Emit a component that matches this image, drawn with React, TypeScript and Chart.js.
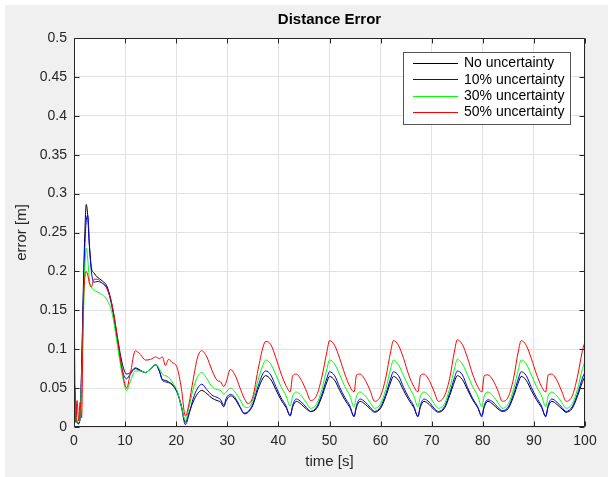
import React, { useEffect, useRef } from 'react';
import { Chart, registerables } from 'chart.js';

Chart.register(...registerables);

const FONT = '"Liberation Sans", Arial, Helvetica, sans-serif';

const chartTitle = 'Distance Error';
const xAxisLabel = 'time [s]';
const yAxisLabel = 'error [m]';

const xTicks = [0, 10, 20, 30, 40, 50, 60, 70, 80, 90, 100];
const yTicks = [0, 0.05, 0.1, 0.15, 0.2, 0.25, 0.3, 0.35, 0.4, 0.45, 0.5];

const time = [
  0, 0.3, 0.6, 0.9, 1.2, 1.5, 1.8, 2.1, 2.4, 2.7, 3.0, 3.4, 3.9, 4.5, 5.5, 6.5, 7.5, 8.5, 9.5, 10.3,
  11, 12, 13, 14, 15, 16, 16.7, 17.3, 17.9, 18.5, 19.2, 20.2, 21, 21.8, 22.5, 23.3, 24.2,
  25, 26, 27, 28, 28.7, 29.3, 29.8, 30.6, 31.5, 32.5, 33.3, 34.1, 35, 36, 37,
  37.5, 38.5, 39.5, 40.5, 41.5, 42.3, 42.8, 43.5, 44.5, 45.5, 46.3, 47.5, 48.5, 49.5,
  50, 51, 52, 53, 54, 54.8, 55.3, 56, 57, 58, 58.8, 60, 61, 62,
  62.5, 63.5, 64.5, 65.5, 66.5, 67.3, 67.8, 68.5, 69.5, 70.5, 71.3, 72.5, 73.5, 74.5,
  75, 76, 77, 78, 79, 79.8, 80.3, 81, 82, 83, 83.8, 85, 86, 87,
  87.5, 88.5, 89.5, 90.5, 91.5, 92.3, 92.8, 93.5, 94.5, 95.5, 96.3, 97.5, 98.5, 99.5,
  100,
];

const noUncertainty = [
  0.07, 0.03, 0.006, 0.005, 0.015, 0.08, 0.17, 0.245, 0.286, 0.27, 0.235, 0.205, 0.198, 0.193, 0.188, 0.18, 0.155, 0.115, 0.08, 0.068,
  0.07, 0.076, 0.073, 0.07, 0.075, 0.08, 0.072, 0.061, 0.06, 0.058, 0.055, 0.045, 0.028, 0.006, 0.018, 0.032, 0.043,
  0.047, 0.043, 0.037, 0.034, 0.032, 0.026, 0.034, 0.04, 0.036, 0.025, 0.017, 0.019, 0.028, 0.048, 0.063,
  0.066, 0.061, 0.048, 0.035, 0.025, 0.015, 0.026, 0.033, 0.029, 0.023, 0.02, 0.024, 0.039, 0.058,
  0.065, 0.06, 0.047, 0.035, 0.025, 0.014, 0.026, 0.033, 0.029, 0.023, 0.019, 0.024, 0.039, 0.058,
  0.065, 0.06, 0.047, 0.035, 0.025, 0.014, 0.026, 0.033, 0.029, 0.022, 0.019, 0.024, 0.04, 0.059,
  0.066, 0.061, 0.048, 0.035, 0.025, 0.015, 0.026, 0.033, 0.029, 0.023, 0.02, 0.024, 0.039, 0.058,
  0.065, 0.06, 0.047, 0.035, 0.025, 0.014, 0.026, 0.033, 0.029, 0.023, 0.019, 0.024, 0.039, 0.058,
  0.065,
];

const uncertainty10 = [
  0.065, 0.03, 0.006, 0.004, 0.012, 0.075, 0.16, 0.23, 0.265, 0.272, 0.235, 0.2, 0.186, 0.187, 0.185, 0.178, 0.152, 0.11, 0.072, 0.062,
  0.068, 0.075, 0.072, 0.07, 0.075, 0.08, 0.072, 0.06, 0.058, 0.057, 0.054, 0.044, 0.026, 0.003, 0.016, 0.036, 0.05,
  0.055, 0.048, 0.041, 0.038, 0.035, 0.028, 0.037, 0.042, 0.038, 0.026, 0.018, 0.02, 0.03, 0.052, 0.069,
  0.072, 0.067, 0.052, 0.038, 0.027, 0.014, 0.028, 0.036, 0.032, 0.025, 0.02, 0.026, 0.042, 0.063,
  0.071, 0.066, 0.051, 0.038, 0.027, 0.013, 0.028, 0.036, 0.032, 0.025, 0.02, 0.026, 0.042, 0.063,
  0.071, 0.066, 0.051, 0.038, 0.027, 0.013, 0.028, 0.036, 0.032, 0.024, 0.02, 0.026, 0.043, 0.064,
  0.072, 0.067, 0.051, 0.037, 0.026, 0.013, 0.028, 0.035, 0.032, 0.025, 0.021, 0.026, 0.042, 0.063,
  0.071, 0.066, 0.051, 0.038, 0.027, 0.013, 0.028, 0.036, 0.032, 0.025, 0.02, 0.026, 0.042, 0.063,
  0.071,
];

const uncertainty30 = [
  0.06, 0.025, 0.007, 0.006, 0.015, 0.06, 0.13, 0.2, 0.23, 0.215, 0.19, 0.18, 0.176, 0.174, 0.17, 0.163, 0.145, 0.105, 0.065, 0.047,
  0.058, 0.072, 0.072, 0.07, 0.075, 0.08, 0.075, 0.068, 0.066, 0.064, 0.058, 0.046, 0.027, 0.008, 0.025, 0.048, 0.065,
  0.07, 0.062, 0.052, 0.048, 0.047, 0.042, 0.045, 0.05, 0.045, 0.035, 0.026, 0.025, 0.035, 0.06, 0.08,
  0.086, 0.081, 0.067, 0.052, 0.04, 0.027, 0.04, 0.045, 0.04, 0.031, 0.024, 0.03, 0.048, 0.075,
  0.086, 0.081, 0.067, 0.052, 0.04, 0.026, 0.04, 0.045, 0.04, 0.031, 0.024, 0.03, 0.048, 0.076,
  0.086, 0.08, 0.066, 0.052, 0.04, 0.026, 0.04, 0.045, 0.04, 0.03, 0.024, 0.03, 0.049, 0.076,
  0.087, 0.081, 0.067, 0.052, 0.04, 0.026, 0.04, 0.045, 0.04, 0.031, 0.024, 0.03, 0.048, 0.075,
  0.086, 0.081, 0.067, 0.052, 0.04, 0.026, 0.04, 0.045, 0.04, 0.031, 0.024, 0.03, 0.048, 0.075,
  0.085,
];

const uncertainty50 = [
  0.2, 0.006, 0.034, 0.008, 0.032, 0.012, 0.145, 0.19, 0.2, 0.195, 0.185, 0.18, 0.19, 0.19, 0.185, 0.177, 0.155, 0.115, 0.07, 0.05,
  0.068, 0.098, 0.093, 0.086, 0.087, 0.09, 0.088, 0.09, 0.079, 0.087, 0.083, 0.076, 0.05, 0.014, 0.03, 0.06, 0.09,
  0.098, 0.09, 0.073, 0.06, 0.058, 0.052, 0.058, 0.074, 0.067, 0.05, 0.037, 0.03, 0.039, 0.073, 0.103,
  0.11, 0.106, 0.089, 0.069, 0.053, 0.045, 0.066, 0.068, 0.06, 0.046, 0.034, 0.041, 0.064, 0.097,
  0.111, 0.105, 0.088, 0.068, 0.052, 0.045, 0.067, 0.068, 0.06, 0.046, 0.033, 0.04, 0.063, 0.098,
  0.111, 0.105, 0.088, 0.067, 0.052, 0.045, 0.066, 0.068, 0.06, 0.045, 0.033, 0.04, 0.062, 0.099,
  0.112, 0.106, 0.089, 0.068, 0.052, 0.045, 0.066, 0.067, 0.06, 0.046, 0.033, 0.039, 0.062, 0.099,
  0.111, 0.105, 0.088, 0.068, 0.052, 0.045, 0.067, 0.068, 0.06, 0.045, 0.033, 0.04, 0.064, 0.098,
  0.11,
];

const seriesLabels = ['No uncertainty', '10% uncertainty', '30% uncertainty', '50% uncertainty'];
const seriesColors = ['#000000', '#0000ff', '#00ff00', '#ff0000'];
const seriesValues = [noUncertainty, uncertainty10, uncertainty30, uncertainty50];

const AXIS_COLOR = '#262626';
const GRID_COLOR = '#e2e2e2';

const decorPlugin = {
  id: 'matlabDecor',
  beforeDraw(chart: any) {
    const { ctx, width, height, chartArea } = chart;
    ctx.save();
    ctx.fillStyle = '#ffffff';
    ctx.fillRect(0, 0, width, height);
    ctx.fillStyle = '#f0f0f0';
    ctx.fillRect(5, 5, width - 5, height - 5);
    ctx.fillStyle = '#ffffff';
    ctx.fillRect(chartArea.left, chartArea.top, chartArea.right - chartArea.left, chartArea.bottom - chartArea.top);
    ctx.restore();
  },
  afterDatasetsDraw(chart: any) {
    const { ctx, chartArea } = chart;
    const { left, right, top, bottom } = chartArea;
    const xs = chart.scales.x;
    const ys = chart.scales.y;
    ctx.save();
    ctx.strokeStyle = AXIS_COLOR;
    ctx.lineWidth = 1;
    ctx.beginPath();
    const L = Math.round(left) + 0.5;
    const R = Math.round(right) - 0.5;
    const T = Math.round(top) + 0.5;
    const B = Math.round(bottom) - 0.5;
    ctx.rect(L, T, R - L, B - T);
    const tl = 5;
    xTicks.forEach((v) => {
      const px = Math.round(xs.getPixelForValue(v)) + 0.5;
      ctx.moveTo(px, B);
      ctx.lineTo(px, B - tl);
      ctx.moveTo(px, T);
      ctx.lineTo(px, T + tl);
    });
    yTicks.forEach((v) => {
      const py = Math.round(ys.getPixelForValue(v)) + 0.5;
      ctx.moveTo(L, py);
      ctx.lineTo(L + tl, py);
      ctx.moveTo(R, py);
      ctx.lineTo(R - tl, py);
    });
    ctx.stroke();
    ctx.restore();
  },
  afterDraw(chart: any) {
    const { ctx, chartArea } = chart;
    const cx = (chartArea.left + chartArea.right) / 2;
    ctx.save();
    ctx.fillStyle = '#000000';
    ctx.textAlign = 'center';
    ctx.textBaseline = 'middle';
    ctx.font = `bold 15px ${FONT}`;
    ctx.fillText(chartTitle, cx, 20);
    ctx.fillStyle = AXIS_COLOR;
    ctx.font = `15px ${FONT}`;
    ctx.fillText(xAxisLabel, cx, 462);
    ctx.save();
    ctx.translate(22, (chartArea.top + chartArea.bottom) / 2);
    ctx.rotate(-Math.PI / 2);
    ctx.fillText(yAxisLabel, 0, 0);
    ctx.restore();

    // legend
    const bx = 403.5, by = 52.5, bw = 167, bh = 72;
    ctx.fillStyle = '#ffffff';
    ctx.fillRect(bx, by, bw, bh);
    ctx.strokeStyle = '#555555';
    ctx.lineWidth = 1;
    ctx.strokeRect(bx, by, bw, bh);
    ctx.font = `14px ${FONT}`;
    ctx.textAlign = 'left';
    ctx.textBaseline = 'middle';
    seriesLabels.forEach((lab, i) => {
      const y = 63 + i * 16.3;
      ctx.strokeStyle = seriesColors[i];
      ctx.beginPath();
      ctx.moveTo(413, Math.round(y) + 0.5);
      ctx.lineTo(458, Math.round(y) + 0.5);
      ctx.stroke();
      ctx.fillStyle = '#000000';
      ctx.fillText(lab, 464, y + 0.5);
    });
    ctx.restore();
  },
};

export default function App() {
  const canvasRef = useRef<HTMLCanvasElement | null>(null);

  useEffect(() => {
    document.body.style.margin = '0';
    const canvas = canvasRef.current;
    if (!canvas) return;
    const datasets = seriesValues.map((vals, i) => ({
      label: seriesLabels[i],
      data: time.map((t, k) => ({ x: t, y: vals[k] })),
      borderColor: seriesColors[i],
      backgroundColor: seriesColors[i],
      borderWidth: 1,
      pointRadius: 0,
      fill: false,
      cubicInterpolationMode: 'monotone' as const,
      order: 4 - i,
    }));
    const chart = new Chart(canvas, {
      type: 'line',
      data: { datasets },
      options: {
        animation: false,
        responsive: false,
        devicePixelRatio: 1,
        layout: { padding: { top: 38, right: 23, left: 0, bottom: 0 } },
        plugins: {
          legend: { display: false },
          title: { display: false },
          tooltip: { enabled: false },
        },
        scales: {
          x: {
            type: 'linear',
            min: 0,
            max: 100,
            afterBuildTicks: (s: any) => {
              s.ticks = xTicks.map((value) => ({ value }));
            },
            afterFit: (s: any) => {
              s.height = 50;
            },
            grid: { color: GRID_COLOR, drawTicks: false },
            border: { display: false },
            ticks: {
              padding: 6,
              color: AXIS_COLOR,
              font: { family: FONT, size: 14 },
              maxRotation: 0,
              autoSkip: false,
              callback: (v: any) => String(v),
            },
          },
          y: {
            type: 'linear',
            min: 0,
            max: 0.5,
            afterBuildTicks: (s: any) => {
              s.ticks = yTicks.map((value) => ({ value }));
            },
            afterFit: (s: any) => {
              s.width = 74;
            },
            grid: { color: GRID_COLOR, drawTicks: false },
            border: { display: false },
            ticks: {
              padding: 7,
              color: AXIS_COLOR,
              font: { family: FONT, size: 14 },
              autoSkip: false,
              callback: (v: any) => String(Math.round(Number(v) * 100) / 100),
            },
          },
        },
      },
      plugins: [decorPlugin],
    });
    return () => chart.destroy();
  }, []);

  return (
    <div style={{ position: 'absolute', left: 0, top: 0, width: 608, height: 477 }}>
      <canvas ref={canvasRef} width={608} height={477} style={{ display: 'block' }} />
    </div>
  );
}
